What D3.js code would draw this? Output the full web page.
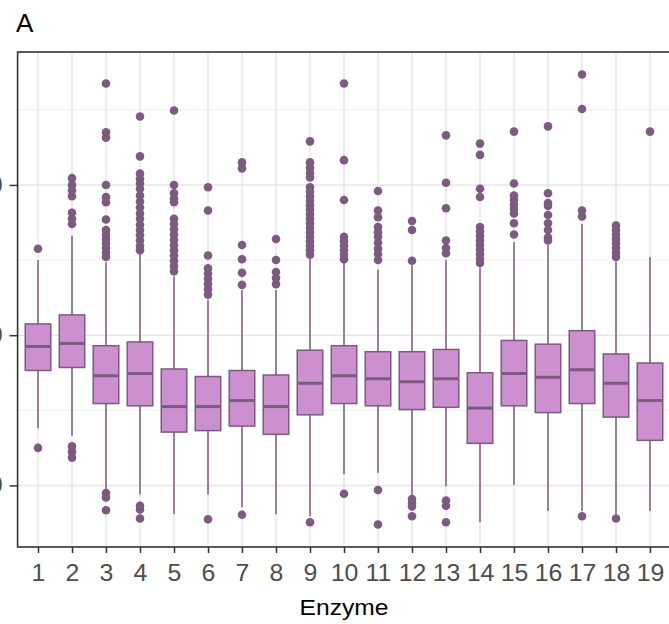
<!DOCTYPE html>
<html>
<head>
<meta charset="utf-8">
<script src="https://cdn.jsdelivr.net/npm/d3@7"></script>
<style>
  html, body { margin: 0; padding: 0; background: #fff; }
  svg { display: block; font-family: "Liberation Sans", Arial, sans-serif; }
</style>
</head>
<body>
<svg id="chart" width="669" height="624"></svg>
<script>
// boxplot summary per enzyme (log-scale values)
const enzymes = ["1","2","3","4","5","6","7","8","9","10","11","12","13","14","15","16","17","18","19"];
const whiskerLow  = [6.76, 6.66, 5.95, 5.88, 5.62, 5.88, 5.71, 5.62, 5.59, 6.15, 6.17, 5.86, 5.99, 5.51, 6.01, 5.66, 5.66, 5.62, 5.66];
const q1          = [7.53, 7.57, 7.09, 7.06, 6.71, 6.73, 6.79, 6.68, 6.94, 7.09, 7.06, 7.01, 7.04, 6.56, 7.06, 6.97, 7.09, 6.91, 6.60];
const medians     = [7.85, 7.89, 7.46, 7.49, 7.05, 7.05, 7.13, 7.05, 7.36, 7.46, 7.42, 7.38, 7.42, 7.03, 7.49, 7.44, 7.54, 7.36, 7.13];
const q3          = [8.15, 8.27, 7.86, 7.91, 7.55, 7.45, 7.53, 7.47, 7.80, 7.86, 7.78, 7.78, 7.81, 7.50, 7.93, 7.88, 8.06, 7.75, 7.63];
const whiskerHigh = [9.00, 9.32, 8.97, 9.10, 8.78, 8.47, 8.60, 8.60, 9.02, 8.97, 8.87, 8.93, 9.00, 8.90, 9.24, 9.20, 9.48, 8.98, 9.04];
const outliers = [
  [9.15, 6.50],
  [10.09, 10.0, 9.93, 9.85, 9.63, 9.55, 9.48, 6.52, 6.45, 6.37],
  [11.35, 10.70, 10.63, 10.0, 9.84, 9.77, 9.54, 9.40, 9.34, 9.28, 9.22, 9.16, 9.10, 9.04, 5.90, 5.84, 5.67],
  [10.91, 10.38, 10.15, 10.08, 10.02, 9.95, 9.86, 9.78, 9.70, 9.62, 9.55, 9.47, 9.40, 9.33, 9.26, 9.19, 9.13, 5.73, 5.68, 5.56],
  [10.99, 10.0, 9.89, 9.82, 9.77, 9.55, 9.48, 9.41, 9.34, 9.27, 9.20, 9.13, 9.06, 8.99, 8.92, 8.85],
  [9.97, 9.66, 9.06, 8.89, 8.82, 8.75, 8.68, 8.61, 8.54, 5.55],
  [10.30, 10.22, 9.20, 9.01, 8.83, 8.67, 5.61],
  [9.28, 9.00, 8.84, 8.76, 8.68],
  [10.58, 10.30, 10.23, 10.16, 10.10, 9.97, 9.91, 9.85, 9.79, 9.73, 9.67, 9.61, 9.55, 9.49, 9.43, 9.37, 9.31, 9.25, 9.19, 9.13, 9.07, 5.51],
  [11.35, 10.33, 9.80, 9.31, 9.25, 9.19, 9.13, 9.07, 9.01, 5.89],
  [9.92, 9.66, 9.57, 9.44, 9.37, 9.31, 9.23, 9.15, 9.08, 9.00, 5.94, 5.48],
  [9.52, 9.40, 8.99, 5.82, 5.77, 5.72, 5.59],
  [10.66, 10.03, 9.69, 9.26, 9.16, 9.09, 5.80, 5.73, 5.51],
  [10.55, 10.40, 9.95, 9.84, 9.44, 9.38, 9.32, 9.26, 9.20, 9.14, 9.08, 9.02, 8.96],
  [10.71, 10.02, 9.86, 9.80, 9.74, 9.68, 9.62, 9.49, 9.34],
  [10.78, 9.89, 9.76, 9.72, 9.60, 9.49, 9.40, 9.30, 9.26],
  [11.47, 11.01, 9.66, 9.58, 5.59],
  [9.46, 9.40, 9.34, 9.28, 9.22, 9.16, 9.10, 9.04, 5.56],
  [10.71]
];
const majorTicks = [6, 8, 10];
const minorTicks = [7, 9, 11];

const boxFill = "#cc8fcf";
const boxLine = "#7d5a80";

function drawChart() {
  const svg = d3.select("#chart");
  const left = 17.6, right = 670.4, top = 52, bottom = 547;

  const x = d3.scalePoint()
    .domain(enzymes)
    .range([left, right])
    .padding(0.6);

  // y range from all the data, expanded 5% like ggplot does
  const allVals = whiskerLow.concat(whiskerHigh, outliers.flat());
  const [lo, hi] = d3.extent(allVals);
  const pad = (hi - lo) * 0.05;
  const y = d3.scaleLinear().domain([lo - pad, hi + pad]).range([bottom, top]);

  const boxW = x.step() * 0.75;

  // grid
  const grid = svg.append("g");
  grid.selectAll(".minor")
    .data(minorTicks)
    .enter()
    .append("line")
    .attr("x1", left).attr("x2", right)
    .attr("y1", d => y(d)).attr("y2", d => y(d))
    .attr("stroke", "#f0f0f0")
    .attr("stroke-width", 1);
  grid.selectAll(".major")
    .data(majorTicks)
    .enter()
    .append("line")
    .attr("x1", left).attr("x2", right)
    .attr("y1", d => y(d)).attr("y2", d => y(d))
    .attr("stroke", "#e6e6e6")
    .attr("stroke-width", 1.4);
  grid.selectAll(".vgrid")
    .data(enzymes)
    .enter()
    .append("line")
    .attr("x1", d => x(d)).attr("x2", d => x(d))
    .attr("y1", top).attr("y2", bottom)
    .attr("stroke", "#e6e6e6")
    .attr("stroke-width", 1.4);

  const rows = enzymes.map((e, i) => ({
    e: e, lo: whiskerLow[i], q1: q1[i], med: medians[i], q3: q3[i], hi: whiskerHigh[i], out: outliers[i]
  }));

  const g = svg.append("g");

  // whiskers
  g.selectAll(".whisk")
    .data(rows)
    .enter()
    .append("line")
    .attr("x1", d => x(d.e)).attr("x2", d => x(d.e))
    .attr("y1", d => y(d.lo)).attr("y2", d => y(d.hi))
    .attr("stroke", boxLine)
    .attr("stroke-width", 1.5);

  // boxes
  g.selectAll(".box")
    .data(rows)
    .enter()
    .append("rect")
    .attr("x", d => x(d.e) - boxW / 2)
    .attr("width", boxW)
    .attr("y", d => y(d.q3))
    .attr("height", d => y(d.q1) - y(d.q3))
    .attr("fill", boxFill)
    .attr("stroke", boxLine)
    .attr("stroke-width", 1.5);

  // medians
  g.selectAll(".med")
    .data(rows)
    .enter()
    .append("line")
    .attr("x1", d => x(d.e) - boxW / 2).attr("x2", d => x(d.e) + boxW / 2)
    .attr("y1", d => y(d.med)).attr("y2", d => y(d.med))
    .attr("stroke", boxLine)
    .attr("stroke-width", 3);

  // outlier points
  const pts = rows.flatMap(d => d.out.map(v => ({ e: d.e, v: v })));
  g.selectAll(".pt")
    .data(pts)
    .enter()
    .append("circle")
    .attr("cx", d => x(d.e))
    .attr("cy", d => y(d.v))
    .attr("r", 4.3)
    .attr("fill", boxLine);

  // panel border
  svg.append("rect")
    .attr("x", left).attr("y", top)
    .attr("width", right - left).attr("height", bottom - top)
    .attr("fill", "none")
    .attr("stroke", "#333")
    .attr("stroke-width", 1.6);

  // x axis
  const xAxis = svg.append("g")
    .attr("transform", `translate(0,${bottom})`)
    .call(d3.axisBottom(x).tickSize(6).tickPadding(12));
  xAxis.select(".domain").remove();
  xAxis.selectAll(".tick line").attr("stroke", "#333").attr("stroke-width", 1.5);
  xAxis.selectAll(".tick text")
    .attr("fill", "#4d4d4d")
    .style("font-size", "23px")
    .attr("transform", "scale(1.08,1)");

  // y axis (labels mostly cut off by the left edge)
  const yAxis = svg.append("g")
    .attr("transform", `translate(${left},0)`)
    .call(d3.axisLeft(y).tickValues(majorTicks).tickSize(8).tickPadding(7));
  yAxis.select(".domain").remove();
  yAxis.selectAll(".tick line").attr("stroke", "#333").attr("stroke-width", 1.5);
  yAxis.selectAll(".tick text")
    .attr("fill", "#4d4d4d")
    .style("font-size", "23px");

  svg.append("text")
    .attr("transform", `translate(${(left + right) / 2},615) scale(1.12,1)`)
    .attr("text-anchor", "middle")
    .attr("fill", "#000")
    .style("font-size", "22px")
    .text("Enzyme");

  svg.append("text")
    .attr("x", 16)
    .attr("y", 32)
    .attr("fill", "#000")
    .style("font-size", "26px")
    .text("A");
}

drawChart();
</script>
</body>
</html>
